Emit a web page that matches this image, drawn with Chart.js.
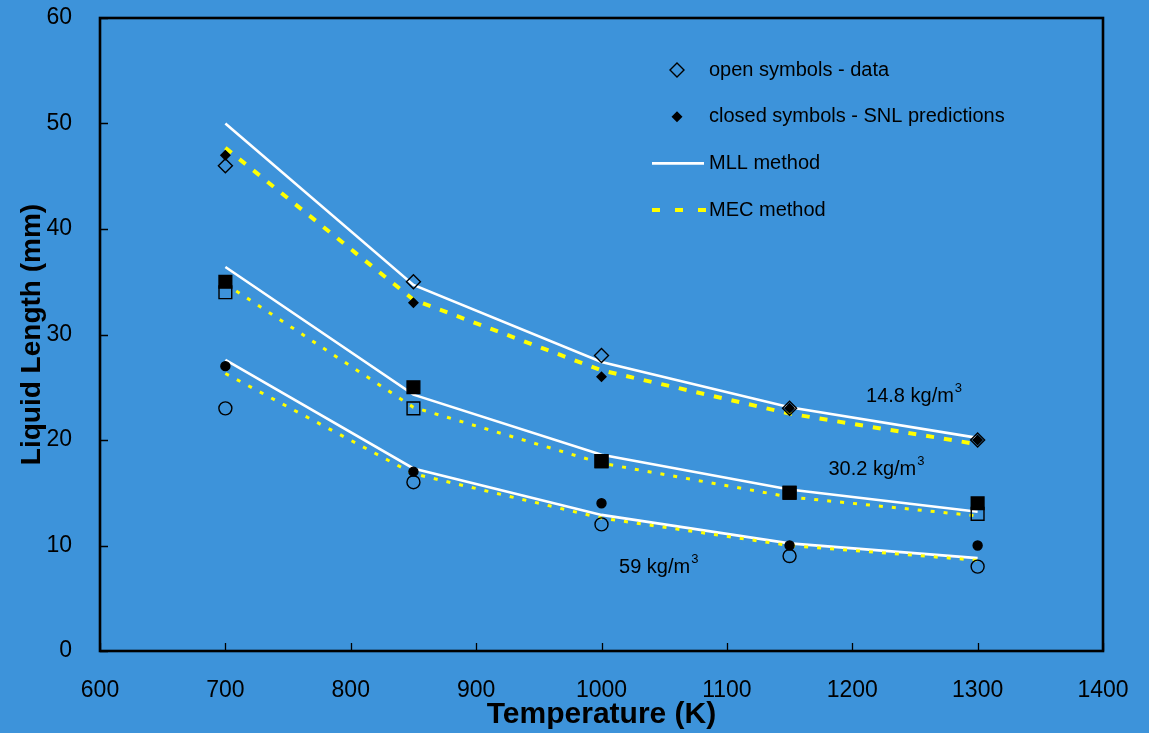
<!DOCTYPE html>
<html>
<head>
<meta charset="utf-8">
<script src="https://cdn.jsdelivr.net/npm/chart.js@4"></script>
<style>
  html, body { margin: 0; padding: 0; background: #3d93da; }
  #wrap { width: 1149px; height: 733px; position: relative; }
</style>
</head>
<body>
<div id="wrap"><canvas id="c" width="1149" height="733"></canvas></div>
<script>
// ---- data ----
const temps = [700, 850, 1000, 1150, 1300];
const xTicks = [600, 700, 800, 900, 1000, 1100, 1200, 1300, 1400];
const yTicks = [0, 10, 20, 30, 40, 50, 60];

// 14.8 kg/m3
const data148 = [46, 35, 28, 23, 20];
const snl148  = [47, 33, 26, 23, 20];
const mll148  = [50, 34.7, 27.4, 23.1, 20.2];
const mec148  = [47.7, 33.3, 26.6, 22.5, 19.6];
// 30.2 kg/m3
const data302 = [34, 23, 18, 15, 13];
const snl302  = [35, 25, 18, 15, 14];
const mll302  = [36.4, 24.3, 18.6, 15.3, 13.2];
const mec302  = [34.8, 23.1, 17.8, 14.6, 12.8];
// 59 kg/m3
const data59  = [23, 16, 12, 9, 8];
const snl59   = [27, 17, 14, 10, 10];
const mll59   = [27.6, 17.3, 12.9, 10.2, 8.8];
const mec59   = [26.3, 16.8, 12.6, 10.0, 8.6];

const densityLabels = [
  { text: '14.8 kg/m', sup: '3', x: 1211, y: 24.1 },
  { text: '30.2 kg/m', sup: '3', x: 1181, y: 17.2 },
  { text: '59 kg/m',   sup: '3', x: 1014, y: 7.9 }
];
const legendItems = [
  { kind: 'openDiamond', text: 'open symbols - data' },
  { kind: 'closedDiamond', text: 'closed symbols - SNL predictions' },
  { kind: 'mll', text: 'MLL method' },
  { kind: 'mec', text: 'MEC method' }
];
// ---- end data ----

const pts = (ys) => temps.map((t, i) => ({ x: t, y: ys[i] }));
const FONT = "'Liberation Sans', Arial, Helvetica, sans-serif";
const BG = '#3d93da';

function markers(ys, style, radius, filled) {
  return {
    data: pts(ys), showLine: false, order: 0,
    pointStyle: style, pointRadius: radius, pointHoverRadius: radius,
    pointBorderColor: '#000', pointBorderWidth: 1.4,
    pointBackgroundColor: filled ? '#000' : 'rgba(0,0,0,0)'
  };
}
function mll(ys) {
  return { data: pts(ys), showLine: true, order: 2, borderColor: '#ffffff',
    borderWidth: 2.6, pointRadius: 0, tension: 0, fill: false };
}
function mec(ys, thick) {
  return { data: pts(ys), showLine: true, order: 1, borderColor: '#ffff00',
    borderWidth: thick ? 4 : 3, borderDash: thick ? [8, 10] : [4, 9],
    pointRadius: 0, tension: 0, fill: false };
}

const datasets = [
  markers(data148, 'rectRot', 7, false),
  markers(snl148, 'rectRot', 4.5, true),
  markers(snl302, 'rect', 9, true),
  markers(data302, 'rect', 9, false),
  markers(data59, 'circle', 6.5, false),
  markers(snl59, 'circle', 4.5, true),
  mll(mll148), mll(mll302), mll(mll59),
  mec(mec148, true), mec(mec302, false), mec(mec59, false)
];

const bgPlugin = {
  id: 'bg',
  beforeDraw(chart) {
    const ctx = chart.ctx;
    ctx.save();
    ctx.fillStyle = BG;
    ctx.fillRect(0, 0, chart.width, chart.height);
    ctx.restore();
  }
};

const framePlugin = {
  id: 'frame',
  afterDraw(chart) {
    const { ctx, chartArea: a, scales } = chart;
    ctx.save();
    // inward tick marks
    ctx.strokeStyle = '#000';
    ctx.lineWidth = 1.3;
    ctx.beginPath();
    yTicks.forEach(v => {
      const y = Math.round(scales.y.getPixelForValue(v)) + 0.5;
      ctx.moveTo(a.left, y); ctx.lineTo(a.left + 8, y);
    });
    xTicks.forEach(v => {
      const x = Math.round(scales.x.getPixelForValue(v)) + 0.5;
      ctx.moveTo(x, a.bottom); ctx.lineTo(x, a.bottom - 8);
    });
    ctx.stroke();
    // frame
    ctx.lineWidth = 2.6;
    ctx.strokeRect(a.left, a.top, a.right - a.left, a.bottom - a.top);

    // density labels
    ctx.fillStyle = '#000';
    ctx.textBaseline = 'middle';
    ctx.textAlign = 'left';
    densityLabels.forEach(l => {
      const x = scales.x.getPixelForValue(l.x);
      const y = scales.y.getPixelForValue(l.y);
      ctx.font = '20px ' + FONT;
      ctx.fillText(l.text, x, y);
      const w = ctx.measureText(l.text).width;
      ctx.font = '13px ' + FONT;
      ctx.fillText(l.sup, x + w + 1, y - 8);
    });

    // legend
    const lx = 709, ly0 = 70, dy = 46.7;
    legendItems.forEach((it, i) => {
      const y = ly0 + i * dy;
      ctx.font = '20px ' + FONT;
      ctx.fillStyle = '#000';
      ctx.textBaseline = 'middle';
      ctx.fillText(it.text, lx, y);
      if (it.kind === 'openDiamond' || it.kind === 'closedDiamond') {
        const r = it.kind === 'openDiamond' ? 7 : 4.5;
        const cx = 677;
        ctx.beginPath();
        ctx.moveTo(cx, y - r); ctx.lineTo(cx + r, y); ctx.lineTo(cx, y + r); ctx.lineTo(cx - r, y);
        ctx.closePath();
        ctx.lineWidth = 1.4;
        ctx.strokeStyle = '#000';
        if (it.kind === 'closedDiamond') { ctx.fill(); }
        ctx.stroke();
      } else if (it.kind === 'mll') {
        ctx.beginPath();
        ctx.strokeStyle = '#fff'; ctx.lineWidth = 2.6; ctx.setLineDash([]);
        ctx.moveTo(652, y); ctx.lineTo(704, y); ctx.stroke();
      } else {
        ctx.beginPath();
        ctx.strokeStyle = '#ffff00'; ctx.lineWidth = 4; ctx.setLineDash([8, 15]);
        ctx.moveTo(652, y); ctx.lineTo(712, y); ctx.stroke();
        ctx.setLineDash([]);
      }
    });
    ctx.restore();
  }
};

new Chart(document.getElementById('c'), {
  type: 'scatter',
  data: { datasets },
  options: {
    responsive: false,
    animation: false,
    devicePixelRatio: 1,
    layout: { padding: { left: 0, right: 46, top: 18, bottom: 0 } },
    plugins: { legend: { display: false }, tooltip: { enabled: false } },
    scales: {
      x: {
        type: 'linear', min: 600, max: 1400,
        afterFit(s) { s.height = 82; s.paddingLeft = 0; s.paddingRight = 0; },
        afterBuildTicks(s) { s.ticks = xTicks.map(v => ({ value: v })); },
        grid: { display: false }, border: { display: false },
        ticks: { color: '#000', font: { family: FONT, size: 23 }, padding: 18, maxRotation: 0, autoSkip: false,
          callback: v => String(v) },
        title: { display: true, text: 'Temperature (K)', color: '#000',
          font: { family: FONT, size: 30, weight: 'bold' }, padding: { top: 0, bottom: 0 } }
      },
      y: {
        type: 'linear', min: 0, max: 60,
        afterFit(s) { s.width = 100; s.paddingTop = 0; s.paddingBottom = 0; },
        afterBuildTicks(s) { s.ticks = yTicks.map(v => ({ value: v })); },
        grid: { display: false }, border: { display: false },
        ticks: { color: '#000', font: { family: FONT, size: 23 }, padding: 20, autoSkip: false,
          callback: v => String(v) },
        title: { display: true, text: 'Liquid Length (mm)', color: '#000',
          font: { family: FONT, size: 28, weight: 'bold' }, padding: { top: 15, bottom: 0 } }
      }
    }
  },
  plugins: [bgPlugin, framePlugin]
});
</script>
</body>
</html>
